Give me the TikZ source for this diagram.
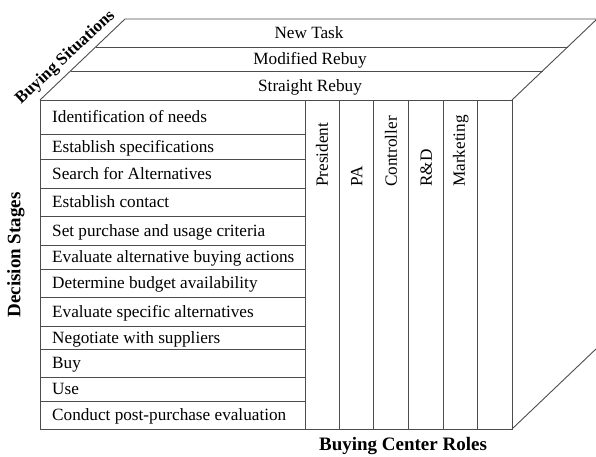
\documentclass[tikz,border=0pt]{standalone}
\usepackage{fontspec}
\setmainfont{Liberation Serif}
\begin{document}
\begin{tikzpicture}[x=1pt,y=-1pt,
  edge/.style={draw=black!70,line width=0.9pt},
  txt/.style={inner sep=0pt,text height=11.5pt,text depth=0pt,font=\fontsize{17.2}{20}\selectfont},
  lab/.style={inner sep=0pt,text height=12.5pt,text depth=0pt,font=\fontsize{19}{22}\selectfont\bfseries}]
\useasboundingbox (0,0) rectangle (596,457);
\clip (0,0) rectangle (596,457);
% corners
\coordinate (FTL) at (40,100);
\coordinate (FTR) at (512,100);
\coordinate (FBL) at (40,429);
\coordinate (FBR) at (512,429);
\coordinate (BTL) at (125,19);
\coordinate (BTR) at (597,19);
\coordinate (BBR) at (597,348);
\coordinate (M1L) at (96,47);
\coordinate (M1R) at (568,47);
\coordinate (M2L) at (70.5,71);
\coordinate (M2R) at (542.5,71);
% top face
\draw[edge] (FTL) -- (BTL) -- (BTR) -- (FTR);
\draw[edge] (M1L) -- (M1R);
\draw[edge] (M2L) -- (M2R);
% front face
\draw[edge] (FTL) rectangle (FBR);
% right face
\draw[edge] (FBR) -- (BBR);
% columns
\foreach \x in {305,339.3,373.7,408.7,443,477.7}
  \draw[edge] (\x,100) -- (\x,429);
% rows
\foreach \y in {134,159,188,216,245,269,297,326,349,377,401}
  \draw[edge] (40,\y) -- (305,\y);
% top band texts
\node[txt] (nt) at (309,33) {New Task};
\node[txt] (mr) at (310,59) {Modified Rebuy};
\node[txt] (sr) at (310,85.5) {Straight Rebuy};
% decision stages
\foreach \c/\t [count=\i] in {117/Identification of needs,146.5/Establish specifications,173.5/Search for Alternatives,202/Establish contact,230.5/Set purchase and usage criteria,257/Evaluate alternative buying actions,283/Determine budget availability,311.5/Evaluate specific alternatives,337.5/Negotiate with suppliers,363/Buy,389/Use,415/Conduct post-purchase evaluation}
  \node[txt,anchor=west] (s\i) at (52,\c) {\t};
% roles
\node[txt,anchor=west,rotate=90] (r1) at (322,187) {President};
\node[txt,anchor=west,rotate=90] (r2) at (356.5,187) {PA};
\node[txt,anchor=west,rotate=90] (r3) at (391,187) {Controller};
\node[txt,anchor=west,rotate=90] (r4) at (426,187) {R\&D};
\node[txt,anchor=west,rotate=90] (r5) at (459,187) {Marketing};
% axis labels
\node[lab,rotate=43,font=\fontsize{17}{20}\selectfont\bfseries] (bs) at (64,56) {Buying Situations};
\node[lab,rotate=90] (ds) at (14,255) {Decision Stages};
\node[lab] (bcr) at (403,444) {Buying Center Roles};
\end{tikzpicture}
\end{document}
